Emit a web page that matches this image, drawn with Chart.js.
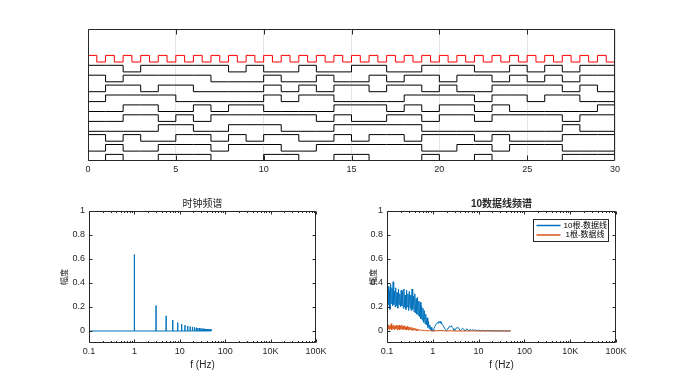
<!DOCTYPE html>
<html lang="zh"><head>
<meta charset="UTF-8">
<title>时钟与数据线频谱</title>
<script src="https://cdn.jsdelivr.net/npm/chart.js"></script>
<style>
  body { margin: 0; background: #fff; }
  .wrap { position: relative; width: 680px; height: 386px; }
  .wrap canvas { position: absolute; left: 0; top: 0; }
</style>
</head><body>
<div class="wrap">
  <canvas id="wave" width="680" height="386"></canvas>
  <canvas id="clockSpec" width="680" height="386"></canvas>
  <canvas id="dataSpec" width="680" height="386"></canvas>
</div>
<script>
// ---- waveform plot data ----
const timeTicks = [0, 5, 10, 15, 20, 25, 30];
const clockHalfPeriod = 0.5;
const clockOffset = 15;
const clockLevels = [1,0,1,0,1,0,1,0,1,0, 1,0,1,0,1,0,1,0,1,0, 1,0,1,0,1,0,1,0,1,0,
                     1,0,1,0,1,0,1,0,1,0, 1,0,1,0,1,0,1,0,1,0, 1,0,1,0,1,0,1,0,1,0];
const line1  = [1,1,0,1,1, 1,1,1,0,1, 0,0,1,0,0, 1,1,0,0,1, 1,1,0,0,1, 0,1,0,1,1];
const line2  = [1,0,1,1,1, 1,1,0,0,0, 1,0,0,1,0, 0,1,0,1,1, 0,1,1,0,1, 0,1,0,1,1];
const line3  = [0,1,1,0,1, 1,0,0,0,0, 1,0,1,0,1, 1,0,1,1,0, 1,0,0,1,1, 1,1,0,1,0];
const line4  = [0,1,1,1,1, 0,0,0,0,0, 1,0,1,1,0, 0,0,0,1,1, 1,1,0,1,1, 0,1,1,0,0];
const line5  = [0,0,1,1,0, 0,1,0,1,1, 0,0,0,0,1, 1,1,0,1,0, 1,1,0,1,0, 0,0,0,0,1];
const line6  = [0,0,1,1,0, 1,0,1,1,1, 1,1,1,0,1, 0,0,1,1,0, 1,1,0,1,1, 1,1,0,1,1];
const line7  = [0,0,0,0,1, 1,0,0,1,1, 1,0,0,0,1, 1,1,1,1,0, 0,0,0,0,0, 0,0,1,0,0];
const line8  = [1,0,1,0,0, 1,1,0,1,0, 1,1,0,0,1, 0,1,1,0,1, 1,1,0,1,0, 0,0,1,1,1];
const line9  = [0,1,0,0,1, 1,1,0,1,1, 1,0,0,1,1, 1,1,1,1,0, 0,1,1,0,1, 1,1,0,0,0];
const line10 = [0,1,0,0,1, 1,1,0,0,0, 1,1,0,0,1, 1,0,0,0,1, 0,0,1,0,0, 0,0,1,1,1];
const dataLines = [line1, line2, line3, line4, line5, line6, line7, line8, line9, line10];
const lineOffsets = [13.5, 12, 10.5, 9, 7.5, 6, 4.5, 3, 1.5, 0];

// ---- spectrum plots data ----
const freqTicks = [0.1, 1, 10, 100, 1000, 10000];
const freqTickLabels = ['0.1', '1', '10', '100', '10K', '100K'];
const ampTicks = [0, 0.2, 0.4, 0.6, 0.8, 1];

const clockFreqStart = 0.1, clockFreqEnd = 50;
const clockHarmonics = [1,3,5,7,9,11,13,15,17,19,21,23,25,27,29,31,33,35,37,39,41,43,45,47,49];
const clockHarmonicAmp = [0.637,0.212,0.127,0.091,0.071,0.058,0.049,0.042,0.037,0.034,0.030,0.028,
                          0.025,0.024,0.022,0.021,0.019,0.018,0.017,0.016,0.016,0.015,0.014,0.014,0.013];

const busFreq = [0.100,0.102,0.104,0.107,0.110,0.113,0.116,0.120,0.124,0.128,0.132,0.136,0.140,0.145,
  0.150,0.155,0.160,0.166,0.172,0.178,0.184,0.190,0.197,0.204,0.211,0.218,0.226,0.234,0.242,0.250,
  0.259,0.268,0.277,0.287,0.297,0.307,0.318,0.329,0.340,0.352,0.364,0.377,0.390,0.404,0.418,0.432,
  0.447,0.463,0.479,0.496,0.513,0.531,0.550,0.569,0.589,0.610,0.631,0.653,0.676,0.700,0.724,0.750,
  0.776,0.803,0.832,0.861,0.891,0.923,0.955,0.990,1.02,
  1.06,1.10,1.15,1.20,1.25,1.30,1.35,1.40,1.45,1.50,1.55,1.62,1.70,1.78,1.87,1.96,2.05,2.15,2.25,
  2.35,2.45,2.55,2.65,2.78,2.90,3.00,3.15,3.30,3.45,3.60,3.80,4.00,4.25,4.50,4.75,5.00,5.30,5.60,
  5.90,6.20,6.60,7.00,7.50,8.00,8.60,9.30,10,11,12,14,16,20,25,35,50];
const busAmp = [0.24,0.35,0.19,0.37,0.22,0.34,0.18,0.39,0.23,0.36,0.21,0.41,0.22,0.33,
  0.20,0.36,0.21,0.32,0.19,0.35,0.22,0.31,0.20,0.34,0.21,0.33,0.19,0.35,0.20,0.30,
  0.18,0.34,0.20,0.31,0.17,0.33,0.19,0.30,0.17,0.35,0.18,0.29,0.16,0.31,0.15,0.27,
  0.14,0.28,0.13,0.25,0.12,0.24,0.10,0.21,0.09,0.19,0.07,0.17,0.06,0.14,0.05,0.11,
  0.03,0.08,0.02,0.05,0.01,0.03,0.00,0.01,0.00,
  0.02,0.035,0.05,0.06,0.07,0.065,0.08,0.07,0.08,0.065,0.07,0.05,0.045,0.025,0.015,0.00,0.01,0.025,0.035,
  0.04,0.035,0.045,0.03,0.02,0.008,0.00,0.015,0.028,0.025,0.03,0.015,0.00,0.015,0.022,0.015,0.00,0.012,0.018,
  0.008,0.00,0.014,0.004,0.012,0.002,0.01,0.002,0.008,0.001,0.006,0.002,0.004,0.001,0.002,0.001,0.00];

const oneFreq = [0.100,0.103,0.106,0.109,0.112,0.115,0.119,0.123,0.127,0.131,0.136,0.140,0.145,0.150,
  0.155,0.160,0.166,0.172,0.178,0.184,0.190,0.197,0.204,0.211,0.218,0.226,0.234,0.242,0.250,0.260,
  0.270,0.280,0.290,0.300,0.310,0.320,0.335,0.350,0.365,0.380,0.395,0.410,0.430,0.450,0.470,0.490,
  0.520,0.550,0.580,0.610,0.650,0.700,0.750,0.800,0.900,1.00,1.50,2.00,2.50,3.00,50];
const oneAmp = [0.03,0.06,0.02,0.05,0.01,0.04,0.02,0.06,0.01,0.04,0.02,0.05,0.01,0.04,
  0.02,0.05,0.01,0.045,0.015,0.05,0.01,0.04,0.02,0.05,0.01,0.04,0.015,0.045,0.01,0.035,
  0.01,0.04,0.008,0.035,0.01,0.03,0.008,0.03,0.005,0.025,0.005,0.022,0.004,0.018,0.003,0.015,
  0.003,0.012,0.002,0.008,0.002,0.005,0.001,0.003,0.001,0.00,0.004,0.00,0.002,0.00,0.00];

const legendLabels = ['10根-数据线', '1根-数据线'];

// ---- shared look ----
const axisColor = '#262626';
const latin = '"Liberation Sans", Arial, sans-serif';
const cjk = '"Liberation Sans", "Noto Sans CJK SC", sans-serif';
const blue = '#0072BD';
const orange = '#D95319';

// box around the axes with MATLAB-style inward ticks
const matlabBox = {
  id: 'matlabBox',
  afterDraw(chart, args, opts) {
    const { ctx, chartArea: a } = chart;
    const xs = chart.scales.x, ys = chart.scales.y;
    const L = Math.round(a.left) + 0.5, R = Math.round(a.right) - 0.5;
    const T = Math.round(a.top) + 0.5, B = Math.round(a.bottom) - 0.5;
    ctx.save();
    ctx.strokeStyle = axisColor;
    ctx.lineWidth = 1;
    ctx.beginPath();
    ctx.rect(L, T, R - L, B - T);
    const len = opts.len || 4;
    (opts.xTicks || []).forEach(v => {
      const x = Math.round(xs.getPixelForValue(v)) + 0.5;
      ctx.moveTo(x, B); ctx.lineTo(x, B - len);
      ctx.moveTo(x, T); ctx.lineTo(x, T + len);
    });
    if (opts.logMinor) {
      for (let i = 0; i < opts.xTicks.length - 1; i++) {
        for (let m = 2; m <= 9; m++) {
          const x = Math.round(xs.getPixelForValue(opts.xTicks[i] * m)) + 0.5;
          ctx.moveTo(x, B); ctx.lineTo(x, B - len / 2);
          ctx.moveTo(x, T); ctx.lineTo(x, T + len / 2);
        }
      }
    }
    (opts.yTicks || []).forEach(v => {
      const y = Math.round(ys.getPixelForValue(v)) + 0.5;
      ctx.moveTo(L, y); ctx.lineTo(L + len, y);
      ctx.moveTo(R, y); ctx.lineTo(R - len, y);
    });
    ctx.stroke();
    ctx.restore();
  }
};

// legend box in the upper right corner of the data-line spectrum
const cornerLegend = {
  id: 'cornerLegend',
  afterDraw(chart, args, opts) {
    if (!opts.labels) return;
    const { ctx, chartArea: a } = chart;
    const w = 75, h = 22;
    const x0 = Math.round(a.right) - 8 - w + 0.5, y0 = Math.round(a.top) + 8 + 0.5;
    ctx.save();
    ctx.fillStyle = '#fff';
    ctx.fillRect(x0, y0, w, h);
    ctx.strokeStyle = axisColor;
    ctx.lineWidth = 1;
    ctx.strokeRect(x0, y0, w, h);
    ctx.font = '8px ' + cjk;
    ctx.textBaseline = 'middle';
    opts.labels.forEach((txt, i) => {
      const y = y0 + 6 + i * 9.5;
      ctx.strokeStyle = opts.colors[i];
      ctx.lineWidth = 1.5;
      ctx.beginPath();
      ctx.moveTo(x0 + 3, y); ctx.lineTo(x0 + 27, y);
      ctx.stroke();
      ctx.fillStyle = '#000';
      ctx.fillText(txt, x0 + 30 + i * 2, y);
    });
    ctx.restore();
  }
};

// ---- waveform chart ----
const waveSets = [{
  data: clockLevels.map((v, i) => ({ x: i * clockHalfPeriod, y: clockOffset + v }))
    .concat([{ x: clockLevels.length * clockHalfPeriod, y: clockOffset + clockLevels[clockLevels.length - 1] }]),
  borderColor: '#ff0000'
}];
dataLines.forEach((bits, k) => {
  waveSets.push({
    data: bits.map((b, i) => ({ x: i, y: lineOffsets[k] + b }))
      .concat([{ x: bits.length, y: lineOffsets[k] + bits[bits.length - 1] }]),
    borderColor: '#000000'
  });
});
waveSets.forEach(d => Object.assign(d, { stepped: true, borderWidth: 1, pointRadius: 0, fill: false }));

new Chart(document.getElementById('wave'), {
  type: 'line',
  data: { datasets: waveSets },
  options: {
    responsive: false, animation: false,
    layout: { padding: { left: 88, top: 29, right: 65, bottom: 205 } },
    plugins: { legend: { display: false }, tooltip: { enabled: false },
      matlabBox: { xTicks: timeTicks.slice(1, -1), len: 5 } },
    scales: {
      x: {
        type: 'linear', min: 0, max: 30,
        afterBuildTicks: s => { s.ticks = timeTicks.map(v => ({ value: v })); },
        afterFit: s => { s.height = 20; },
        ticks: { font: { size: 9, family: latin }, color: axisColor, padding: 3, maxRotation: 0, autoSkip: false },
        grid: { color: '#e4e4e4', drawTicks: false },
        border: { display: false }
      },
      y: { type: 'linear', min: 0, max: 20, display: false }
    }
  },
  plugins: [matlabBox]
});

// ---- spectrum charts ----
function spectrumOptions(title, bold, padLeft, yWidth, padRight, legend) {
  return {
    responsive: false, animation: false,
    layout: { padding: { left: padLeft, top: 198, right: padRight, bottom: 15 } },
    plugins: {
      legend: { display: false }, tooltip: { enabled: false },
      title: { display: true, text: title, fullSize: false, color: axisColor,
        font: { size: 10, family: cjk, weight: bold ? 'bold' : 'normal' }, padding: { top: 0, bottom: 1 } },
      matlabBox: { xTicks: freqTicks, yTicks: ampTicks, logMinor: true, len: 3 },
      cornerLegend: legend
    },
    scales: {
      x: {
        type: 'logarithmic', min: 0.1, max: 10000,
        afterBuildTicks: s => { s.ticks = freqTicks.map(v => ({ value: v })); },
        afterFit: s => { s.height = 28; },
        ticks: { font: { size: 9, family: latin }, color: axisColor, padding: 3, maxRotation: 0, autoSkip: false,
          callback: (v, i) => freqTickLabels[i] },
        title: { display: true, text: 'f (Hz)', color: axisColor, font: { size: 10, family: latin }, padding: 0 },
        grid: { display: false, drawTicks: false },
        border: { display: false }
      },
      y: {
        type: 'linear', min: -0.1, max: 1,
        afterBuildTicks: s => { s.ticks = ampTicks.map(v => ({ value: v })); },
        afterFit: s => { s.width = yWidth; },
        ticks: { font: { size: 9, family: latin }, color: axisColor, padding: 4,
          callback: v => String(v) },
        title: { display: true, text: '幅度', color: axisColor, font: { size: 8, family: cjk }, padding: { top: 1, bottom: 0 } },
        grid: { display: false, drawTicks: false },
        border: { display: false }
      }
    }
  };
}

const clockPts = [{ x: clockFreqStart, y: 0 }];
clockHarmonics.forEach((f, i) => {
  clockPts.push({ x: f, y: 0 }, { x: f, y: clockHarmonicAmp[i] }, { x: f, y: 0 });
});
clockPts.push({ x: clockFreqEnd, y: 0 });

new Chart(document.getElementById('clockSpec'), {
  type: 'line',
  data: { datasets: [{ data: clockPts, borderColor: blue, borderWidth: 1, pointRadius: 0, fill: false }] },
  options: spectrumOptions('时钟频谱', false, 59, 30, 364, null),
  plugins: [matlabBox, cornerLegend]
});

new Chart(document.getElementById('dataSpec'), {
  type: 'line',
  data: { datasets: [
    { data: busFreq.map((f, i) => ({ x: f, y: busAmp[i] })), borderColor: blue, order: 2 },
    { data: oneFreq.map((f, i) => ({ x: f, y: oneAmp[i] })), borderColor: orange, order: 1 }
  ].map(d => Object.assign(d, { borderWidth: 1, pointRadius: 0, fill: false })) },
  options: spectrumOptions('10数据线频谱', true, 368, 19, 64, { labels: legendLabels, colors: [blue, orange] }),
  plugins: [matlabBox, cornerLegend]
});
</script>
</body></html>
